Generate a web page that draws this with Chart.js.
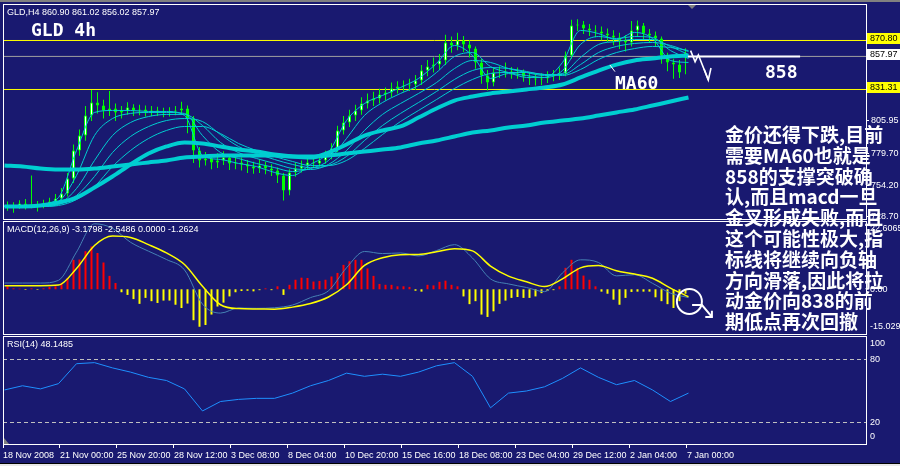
<!DOCTYPE html>
<html lang="zh">
<head>
<meta charset="UTF-8">
<title>GLD 4h</title>
<script src="https://cdn.jsdelivr.net/npm/chart.js"></script>
<style>
  body { margin: 0; background: #191970; }
  #wrap { position: relative; width: 900px; height: 466px; background: #191970; overflow: hidden; }
  #wrap canvas { position: absolute; left: 0; }
  #note {
    position: absolute; left: 725px; top: 124px; z-index: 5;
    color: #fff; font: bold 19px/20.8px "Noto Sans CJK SC", sans-serif; white-space: nowrap;
  }
  .sep { position: absolute; left: 3px; width: 864px; height: 1px; background: #fff; z-index: 6; }
  #tabs { position: absolute; left: 0; top: 463px; width: 900px; height: 3px; background: #e8e8e8; border-top: 1px solid #000; }
</style>
</head>
<body>
<div id="wrap">
  <canvas id="cMain" width="900" height="220" style="top:0"></canvas>
  <canvas id="cMacd" width="900" height="122" style="top:216px"></canvas>
  <canvas id="cRsi" width="900" height="136" style="top:330px"></canvas>
  <div id="note">金价还得下跌,目前<br>需要MA60也就是<br>858的支撑突破确<br>认,而且macd一旦<br>金叉形成失败,而且<br>这个可能性极大,指<br>标线将继续向负轴<br>方向滑落,因此将拉<br>动金价向838的前<br>期低点再次回撤</div>
  <div class="sep" style="top:219px"></div>
  <div class="sep" style="top:221px"></div>
  <div id="tabs"></div>
</div>

<script>
// ---- data ----
// candles: each one covers 2 H4 bars
const candleOpen = [737.0,737.8,736.2,739.5,737.0,738.6,737.0,739.5,741.1,743.5,
  747.5,759.6,782.2,794.3,810.4,820.8,818.4,814.4,816.0,812.8,
  814.4,816.8,814.4,815.2,813.6,814.4,813.6,812.8,813.6,814.4,
  816.0,808.0,782.2,774.1,775.7,772.5,774.1,776.5,771.7,772.5,
  770.9,769.3,767.7,770.1,767.7,766.0,762.0,749.9,764.4,767.7,
  770.1,772.5,771.7,774.1,778.1,783.8,798.3,804.7,810.4,814.4,
  820.0,822.5,824.1,827.3,828.9,832.1,833.7,834.5,835.3,838.6,
  846.6,849.8,851.5,854.7,869.2,866.8,870.8,867.6,864.4,853.1,
  842.6,837.0,845.0,845.0,845.8,844.2,845.0,841.8,840.2,839.4,
  840.2,841.8,842.6,844.2,858.7,882.9,883.7,880.5,878.9,878.1,
  876.4,874.8,873.2,870.8,869.2,878.9,882.9,876.4,874.8,872.4,
  858.7,853.1,851.5,860.9];
const candleHigh = [741.0,740.5,742.0,743.0,762.0,741.5,742.5,744.0,747.0,752.0,
  764.0,787.0,799.0,818.0,831.0,829.0,823.0,830.0,820.0,818.0,
  821.0,819.5,819.0,818.5,818.0,817.5,816.5,817.0,818.0,821.5,
  818.5,810.0,785.0,781.0,779.0,780.0,781.5,779.0,777.0,776.5,
  774.5,773.0,775.0,773.0,771.0,768.5,764.0,767.0,772.0,774.0,
  776.5,777.0,778.5,782.0,788.0,802.0,810.0,815.0,819.0,825.0,
  828.0,829.5,832.0,833.0,837.0,838.0,838.5,840.0,843.0,851.0,
  855.0,857.0,860.0,875.5,874.0,877.0,874.5,871.0,866.0,856.0,
  847.0,849.0,850.0,853.0,849.5,849.0,847.5,845.0,844.0,844.5,
  846.0,847.0,849.0,862.0,887.5,888.0,886.5,884.0,883.0,882.0,
  880.5,879.0,877.0,875.0,886.5,887.0,885.0,880.0,878.0,874.0,
  861.0,856.0,855.0,864.5];
const candleLow = [733.5,732.0,735.0,734.5,735.5,733.0,735.5,737.5,739.0,741.0,
  745.0,756.0,778.0,790.0,806.0,812.0,808.0,810.0,806.0,808.0,
  811.0,810.0,810.5,809.5,810.0,810.0,809.0,809.5,810.5,811.0,
  796.0,772.0,768.5,770.0,767.0,768.0,770.5,766.5,767.0,766.0,
  764.0,763.5,764.0,763.0,761.5,756.0,741.9,746.0,761.0,764.5,
  767.0,768.0,769.0,771.5,775.0,781.0,795.0,801.0,806.0,811.0,
  816.0,818.0,820.0,822.5,825.0,828.0,829.5,830.0,831.0,835.0,
  842.0,845.0,847.0,851.0,861.0,863.0,861.5,857.0,848.0,836.0,
  830.5,834.0,840.5,841.0,840.0,840.0,837.5,835.0,834.5,835.0,
  836.5,838.0,839.0,842.0,856.0,878.5,876.0,874.5,873.5,871.0,
  869.5,867.0,864.0,862.0,866.0,874.0,872.0,869.0,866.0,852.0,
  846.0,840.0,840.5,843.5];
const candleClose = [737.8,736.2,739.5,737.0,738.6,737.0,739.5,741.1,743.5,747.5,
  759.6,782.2,794.3,810.4,820.8,818.4,814.4,816.0,812.8,814.4,
  816.8,814.4,815.2,813.6,814.4,813.6,812.8,813.6,814.4,816.0,
  808.0,782.2,774.1,775.7,772.5,774.1,776.5,771.7,772.5,770.9,
  769.3,767.7,770.1,767.7,766.0,762.0,749.9,764.4,767.7,770.1,
  772.5,771.7,774.1,778.1,783.8,798.3,804.7,810.4,814.4,820.0,
  822.5,824.1,827.3,828.9,832.1,833.7,834.5,835.3,838.6,846.6,
  849.8,851.5,854.7,869.2,866.8,870.8,867.6,864.4,853.1,842.6,
  837.0,845.0,845.4,845.8,844.2,845.0,841.8,840.2,839.4,840.2,
  841.8,842.6,844.2,858.7,882.9,883.7,880.5,878.9,878.1,876.4,
  874.8,873.2,870.8,869.2,878.9,882.9,876.4,874.8,872.4,858.7,
  853.1,851.5,845.0,857.97];

// moving averages (ribbon), one sample every 6 H4 bars
const maFast = [737.8,737.8,738.6,744.2,782.1,812.8,814.4,814.4,813.6,813.6,810.4,778.1,774.9,771.7,769.2,764.4,762.0,770.9,780.5,806.3,820.0,826.5,832.9,840.2,852.3,866.8,858.7,840.2,844.2,841.0,841.0,853.1,878.9,876.4,871.6,877.3,872.4,854.7,853.1];
const maMid = [737.0,737.8,737.8,741.0,762.0,794.2,807.9,812.0,812.8,812.8,812.0,794.2,780.5,775.7,771.7,768.4,765.2,767.6,774.1,791.8,810.4,820.8,828.1,834.5,845.0,857.9,861.1,849.8,845.0,842.6,841.0,846.6,867.6,874.0,872.4,874.0,873.2,862.7,856.3];
const maSlow = [737.0,737.0,737.8,739.4,751.5,774.1,794.2,804.7,809.5,811.2,811.2,802.3,788.6,780.5,775.7,771.7,767.6,766.8,770.9,782.1,798.3,811.2,820.0,828.1,836.9,848.2,854.7,853.1,848.2,845.0,842.6,844.2,857.1,867.6,870.0,871.6,871.6,866.0,859.5];
const maSlower = [737.0,737.0,737.0,738.6,745.9,761.2,780.5,793.4,801.4,806.3,807.9,805.5,795.0,785.4,779.7,774.9,770.9,768.4,770.0,777.3,790.2,802.3,812.0,820.8,829.7,839.4,846.6,849.0,848.2,845.8,843.4,843.4,851.4,861.1,866.0,868.4,869.2,866.8,861.9];
const maWide = [737.0,737.0,737.0,737.8,742.6,753.1,769.2,782.1,791.8,798.3,801.5,801.5,795.8,787.8,782.1,777.3,773.3,770.0,770.0,774.1,783.8,795.0,805.5,814.4,823.2,832.1,839.4,844.2,845.0,845.0,843.4,842.6,847.4,855.5,861.1,864.3,866.0,865.2,862.7];
const ma60 = [737.0,737.0,737.8,740.2,744.2,752.3,761.2,770.9,779.7,785.4,788.6,787.8,785.4,783.0,781.3,778.9,777.3,776.5,780.5,787.0,794.2,798.3,801.5,808.7,816.0,822.4,825.6,828.1,829.7,831.3,832.9,835.3,841.0,846.6,851.4,854.7,856.3,857.9,858.7];
const maLong = [770.0,769.2,767.6,766.8,766.8,767.6,769.2,770.9,772.5,774.1,776.5,777.3,778.1,778.1,778.1,778.1,777.3,777.3,778.1,779.7,781.3,782.9,784.6,787.8,790.2,793.4,796.6,798.3,800.7,802.3,804.7,806.3,807.9,810.3,812.8,815.2,818.4,821.6,824.9];

// MACD(12,26,9): histogram per candle, lines every 6 bars
const macdHist = [1.0,0.3,0.2,-0.2,0.3,-0.2,0.3,0.8,1.0,2.1,
  3.8,9.9,10.0,12.8,14.4,12.2,9.0,4.5,2.1,-1.0,
  -1.9,-3.3,-4.9,-2.9,-4.0,-4.6,-3.8,-3.8,-5.2,-6.3,
  -4.8,-10.4,-12.6,-12.0,-8.5,-5.8,-4.5,-2.4,-1.0,-0.6,
  -0.5,-0.7,-0.3,0.3,-0.3,1.0,-1.9,1.5,3.2,3.9,
  3.8,2.6,2.8,3.2,4.3,5.5,8.2,9.4,9.9,9.9,
  7.0,4.5,1.8,1.5,1.5,1.0,1.0,0.8,-0.5,-0.8,
  1.5,1.3,2.5,2.9,1.5,1.0,-2.4,-5.0,-4.0,-8.5,
  -9.3,-7.4,-4.9,-3.8,-2.9,-2.6,-2.9,-2.9,-2.4,-1.3,
  -0.6,-0.3,1.0,7.2,9.9,7.2,4.6,3.2,1.0,-0.8,
  -1.5,-3.5,-5.2,-2.9,-0.9,-0.8,-0.8,-0.8,-2.7,-4.0,
  -5.0,-6.3,-4.0,-1.5];
const macdMain = [2.1,2.1,2.1,3.0,12.5,22.0,20.5,15.8,12.8,10.0,6.5,-5.0,-8.0,-6.3,-6.4,-6.2,-5.3,-2.8,-0.5,7.2,12.7,12.0,12.2,11.2,13.0,15.0,10.5,3.5,1.8,0.6,-0.8,5.5,9.9,9.0,4.5,4.9,2.0,-1.3,-2.8];
const macdSignal = [1.2,1.2,1.2,1.4,7.0,14.7,17.9,17.4,15.0,12.2,8.3,1.0,-5.2,-6.5,-6.6,-6.7,-6.0,-4.8,-2.6,1.5,8.0,10.6,11.6,11.7,12.6,13.6,12.9,7.8,4.4,2.5,0.9,3.5,7.2,8.0,6.2,5.1,3.7,0.4,-2.5];

// RSI(14), every 6 bars
const rsiValues = [51,55,52,57,76,77,72,68,63,60,52,31,40,42,43,43,48,55,60,67,64,66,64,68,74,77,64,34,48,50,54,62,72,63,56,60,51,40,48];

const priceLevels = [870.80, 857.97, 831.31];
const levelColors = ['#ffff00', '#a0a0a0', '#ffff00'];
const levelBoxColors = ['#ffff00', '#ffffff', '#ffff00'];
const priceTicks = [805.95, 779.70, 754.20, 728.70];
const macdTicks = [22.6065, 0, -15.0295];
const rsiTicks = [100, 80, 20, 0];
const rsiLevels = [80, 20];
const timeLabels = ['18 Nov 2008', '21 Nov 00:00', '25 Nov 20:00', '28 Nov 12:00', '3 Dec 08:00', '8 Dec 04:00',
  '10 Dec 20:00', '15 Dec 16:00', '18 Dec 08:00', '23 Dec 04:00', '29 Dec 12:00', '2 Jan 04:00', '7 Jan 00:00'];
const timeTickBars = [-0.5, 18.5, 37.5, 56.5, 75.5, 94.5, 113.5, 132.5, 151.5, 170.5, 189.5, 208.5, 227.5];

// hand drawn notes, in bar / price units
const supportLevel = 858;
const supportFrom = 227.8, supportTo = 265.2;
const zigzag = [[228.7, 862.6], [230.2, 853.7], [231.3, 859.1], [234.6, 839.0]];
const zigzagHead = [[233.2, 847.8], [234.6, 839.0], [235.5, 848.6]];

// ---- setup ----
const BG = '#191970';
const CANDLE = '#00ff00';
const MA_COLOR = '#00ced1';
const AXIS_FAMILY = '"Liberation Sans", Arial, sans-serif';
const AXIS_SIZE = 9;
const AXIS_FONT = AXIS_SIZE + 'px ' + AXIS_FAMILY;
const X_MIN = -0.5, X_MAX = 287.17;
const candleBars = candleClose.map((_, j) => 2 * j + 1);
const sampleBars = maFast.map((_, k) => 6 * k);

function series(values) {
    return values.map((v, k) => ({ x: sampleBars[k], y: v }));
}
function flatLine(v) {
    return [{ x: X_MIN, y: v }, { x: X_MAX, y: v }];
}
function lineSet(data, color, width, order, extra) {
    return Object.assign({ type: 'line', data: data, borderColor: color, borderWidth: width, pointRadius: 0,
        fill: false, order: order, cubicInterpolationMode: 'monotone' }, extra || {});
}
function xAxis(show) {
    return {
        type: 'linear', min: X_MIN, max: X_MAX, offset: false, display: show,
        grid: { display: show, drawOnChartArea: false, drawTicks: true, tickLength: 4, color: '#ffffff', offset: false },
        border: { display: false },
        afterBuildTicks: s => { s.ticks = timeTickBars.map(v => ({ value: v })); },
        afterFit: s => {
            if (show) s.height = 22;
            s.paddingLeft = 0;
            s.paddingRight = 0;
        },
        ticks: { autoSkip: false, maxRotation: 0, minRotation: 0, align: 'start', padding: 2, color: '#ffffff',
            font: { family: AXIS_FAMILY, size: AXIS_SIZE }, callback: (v, i) => timeLabels[i] }
    };
}
function fitSide(s) {
    s.width = 34;
    s.paddingTop = 0;
    s.paddingBottom = 0;
}
function sideAxis(min, max) {
    return {
        position: 'right', min: min, max: max, bounds: 'data', afterFit: fitSide,
        grid: { display: false }, border: { display: false }, ticks: { display: false }
    };
}
function baseOptions(padding, scales) {
    return {
        responsive: false, animation: false, events: [],
        layout: { padding: padding },
        plugins: { legend: { display: false }, tooltip: { enabled: false } },
        scales: scales
    };
}
function panelBorder(ctx, a) {
    ctx.strokeStyle = '#ffffff';
    ctx.lineWidth = 1;
    ctx.strokeRect(a.left + 0.5, a.top - 0.5, a.right - a.left, a.bottom - a.top + 1);
}
// labels on the right, the outer ones are kept inside the panel like MT4 does
function edgeLabels(ctx, a, scale, values, fmt) {
    ctx.font = AXIS_FONT;
    ctx.fillStyle = '#ffffff';
    ctx.textAlign = 'left';
    ctx.textBaseline = 'middle';
    values.forEach(v => {
        let py = scale.getPixelForValue(v);
        py = Math.min(Math.max(py, a.top + 7), a.bottom - 7);
        ctx.fillText(fmt(v), a.right + 4, py);
    });
}
function header(ctx, a, text) {
    ctx.font = AXIS_FONT;
    ctx.fillStyle = '#ffffff';
    ctx.textAlign = 'left';
    ctx.textBaseline = 'middle';
    ctx.fillText(text, 7, a.top + 8);
}
function polyline(ctx, x, y, pts) {
    ctx.beginPath();
    pts.forEach((p, i) => {
        const px = x.getPixelForValue(p[0]), py = y.getPixelForValue(p[1]);
        if (i === 0) ctx.moveTo(px, py); else ctx.lineTo(px, py);
    });
    ctx.stroke();
}

// ---- main price panel ----
const mainDecor = {
    id: 'mainDecor',
    afterDatasetsDraw(chart) {
        const { ctx, chartArea: a, scales: { x, y } } = chart;
        ctx.save();
        ctx.fillStyle = '#808080';
        ctx.fillRect(0, 0, chart.width, 2);
        panelBorder(ctx, a);

        // price labels of the horizontal lines
        ctx.font = AXIS_FONT;
        ctx.textAlign = 'left';
        ctx.textBaseline = 'middle';
        priceLevels.forEach((lvl, i) => {
            const py = Math.floor(y.getPixelForValue(lvl));
            ctx.fillStyle = levelBoxColors[i];
            ctx.fillRect(a.right + 1, py - 7, 33, 11);
            ctx.fillStyle = '#000000';
            ctx.fillText(lvl.toFixed(2), a.right + 4, py - 1.5);
        });

        header(ctx, a, 'GLD,H4 860.90 861.02 856.02 857.97');
        ctx.fillStyle = '#ffffff';
        ctx.font = 'bold 18px "DejaVu Sans Mono", monospace';
        ctx.textBaseline = 'alphabetic';
        ctx.fillText('GLD 4h', 31, 36);
        ctx.fillText('MA60', x.getPixelForValue(203.5), y.getPixelForValue(831.7));
        ctx.fillText('858', x.getPixelForValue(253.5), y.getPixelForValue(840.6));

        ctx.strokeStyle = '#ffffff';
        ctx.lineWidth = 1;
        polyline(ctx, x, y, [[201.8, 851.1], [203.5, 845.7]]);
        ctx.lineWidth = 1.6;
        polyline(ctx, x, y, zigzag);
        polyline(ctx, x, y, zigzagHead);

        // chart shift marker
        ctx.fillStyle = '#808080';
        ctx.beginPath();
        ctx.moveTo(688, a.top);
        ctx.lineTo(696, a.top);
        ctx.lineTo(692, a.top + 4);
        ctx.closePath();
        ctx.fill();
        ctx.restore();
    }
};

const mainSets = [];
priceLevels.forEach((lvl, i) => mainSets.push(lineSet(flatLine(lvl), levelColors[i], 1, 20)));
mainSets.push({
    type: 'bar', order: 15, grouped: false, barThickness: 1, inflateAmount: 0,
    data: candleClose.map((c, j) => ({ x: candleBars[j], y: [candleLow[j], candleHigh[j]] })),
    backgroundColor: CANDLE
});
mainSets.push({
    type: 'bar', order: 14, grouped: false, barThickness: 3, inflateAmount: 0,
    data: candleClose.map((c, j) => ({ x: candleBars[j], y: [candleOpen[j], c] })),
    backgroundColor: candleClose.map((c, j) => c >= candleOpen[j] ? '#ffffff' : CANDLE),
    borderColor: CANDLE, borderWidth: 1, borderSkipped: false
});
mainSets.push(lineSet(series(maLong), MA_COLOR, 4, 11));
mainSets.push(lineSet(series(ma60), MA_COLOR, 4, 10));
mainSets.push(lineSet(series(maWide), MA_COLOR, 1, 9));
mainSets.push(lineSet(series(maSlower), MA_COLOR, 1, 8));
mainSets.push(lineSet(series(maSlow), MA_COLOR, 1, 7));
mainSets.push(lineSet(series(maMid), MA_COLOR, 1, 6));
mainSets.push(lineSet(series(maFast), MA_COLOR, 1, 5));
mainSets.push(lineSet([{ x: supportFrom, y: supportLevel }, { x: supportTo, y: supportLevel }], '#ffffff', 2, 0));

const mainOptions = baseOptions({ left: 3, top: 5, right: 0, bottom: 1 }, {
    x: xAxis(false),
    y: {
        position: 'right', min: 726.93, max: 899.41, bounds: 'data', afterFit: fitSide,
        afterBuildTicks: s => { s.ticks = priceTicks.map(v => ({ value: v })); },
        grid: { drawOnChartArea: false, drawTicks: true, tickLength: 3, color: '#ffffff' },
        border: { display: false },
        ticks: { color: '#ffffff', padding: 2, font: { family: AXIS_FAMILY, size: AXIS_SIZE }, callback: v => v.toFixed(2) }
    }
});
new Chart(document.getElementById('cMain'), { type: 'line', data: { datasets: mainSets }, options: mainOptions, plugins: [mainDecor] });

// ---- MACD panel ----
const macdDecor = {
    id: 'macdDecor',
    afterDatasetsDraw(chart) {
        const { ctx, chartArea: a, scales: { x, y } } = chart;
        ctx.save();
        panelBorder(ctx, a);
        header(ctx, a, 'MACD(12,26,9) -3.1798 -2.5486 0.0000 -1.2624');
        edgeLabels(ctx, a, y, macdTicks, v => v === 0 ? '0.00' : v.toFixed(4));

        // circle with arrow drawn on the picture
        ctx.strokeStyle = '#ffffff';
        ctx.lineWidth = 2;
        ctx.beginPath();
        ctx.arc(x.getPixelForValue(228.3), y.getPixelForValue(-4.1), 12.5, 0, Math.PI * 2);
        ctx.stroke();
        polyline(ctx, x, y, [[229.2, -5.3], [232.5, -5.3], [235.8, -9.3]]);
        polyline(ctx, x, y, [[233.6, -9.3], [235.8, -9.3], [235.8, -7.2]]);
        ctx.restore();
    }
};
const macdSets = [
    {
        type: 'bar', order: 3, grouped: false, barThickness: 2, inflateAmount: 0,
        data: macdHist.map((v, j) => ({ x: candleBars[j], y: v })),
        backgroundColor: macdHist.map(v => v >= 0 ? '#ff0000' : '#ffff00')
    },
    lineSet(series(macdMain), '#4682b4', 1, 2),
    lineSet(series(macdSignal), '#ffff00', 1.5, 1)
];
new Chart(document.getElementById('cMacd'), {
    type: 'line', data: { datasets: macdSets },
    options: baseOptions({ left: 3, top: 6, right: 0, bottom: 4 }, { x: xAxis(false), y: sideAxis(-15.0295, 22.6065) }),
    plugins: [macdDecor]
});

// ---- RSI panel ----
const rsiDecor = {
    id: 'rsiDecor',
    afterDatasetsDraw(chart) {
        const { ctx, chartArea: a, scales: { y } } = chart;
        ctx.save();
        panelBorder(ctx, a);
        header(ctx, a, 'RSI(14) 48.1485');
        edgeLabels(ctx, a, y, rsiTicks, v => String(v));
        ctx.fillStyle = '#808080';
        ctx.beginPath();
        ctx.moveTo(a.left + 1, a.bottom - 6);
        ctx.lineTo(a.left + 1, a.bottom);
        ctx.lineTo(a.left + 6, a.bottom);
        ctx.closePath();
        ctx.fill();
        ctx.restore();
    }
};
const rsiSets = rsiLevels.map(v => lineSet(flatLine(v), '#c0c0c0', 1, 2, { borderDash: [4, 3] }));
rsiSets.push(lineSet(series(rsiValues), '#1e90ff', 1, 1, { cubicInterpolationMode: 'default', tension: 0 }));
new Chart(document.getElementById('cRsi'), {
    type: 'line', data: { datasets: rsiSets },
    options: baseOptions({ left: 3, top: 7, right: 0, bottom: 0 }, { x: xAxis(true), y: sideAxis(-0.476, 101.43) }),
    plugins: [rsiDecor]
});
</script>
</body>
</html>
